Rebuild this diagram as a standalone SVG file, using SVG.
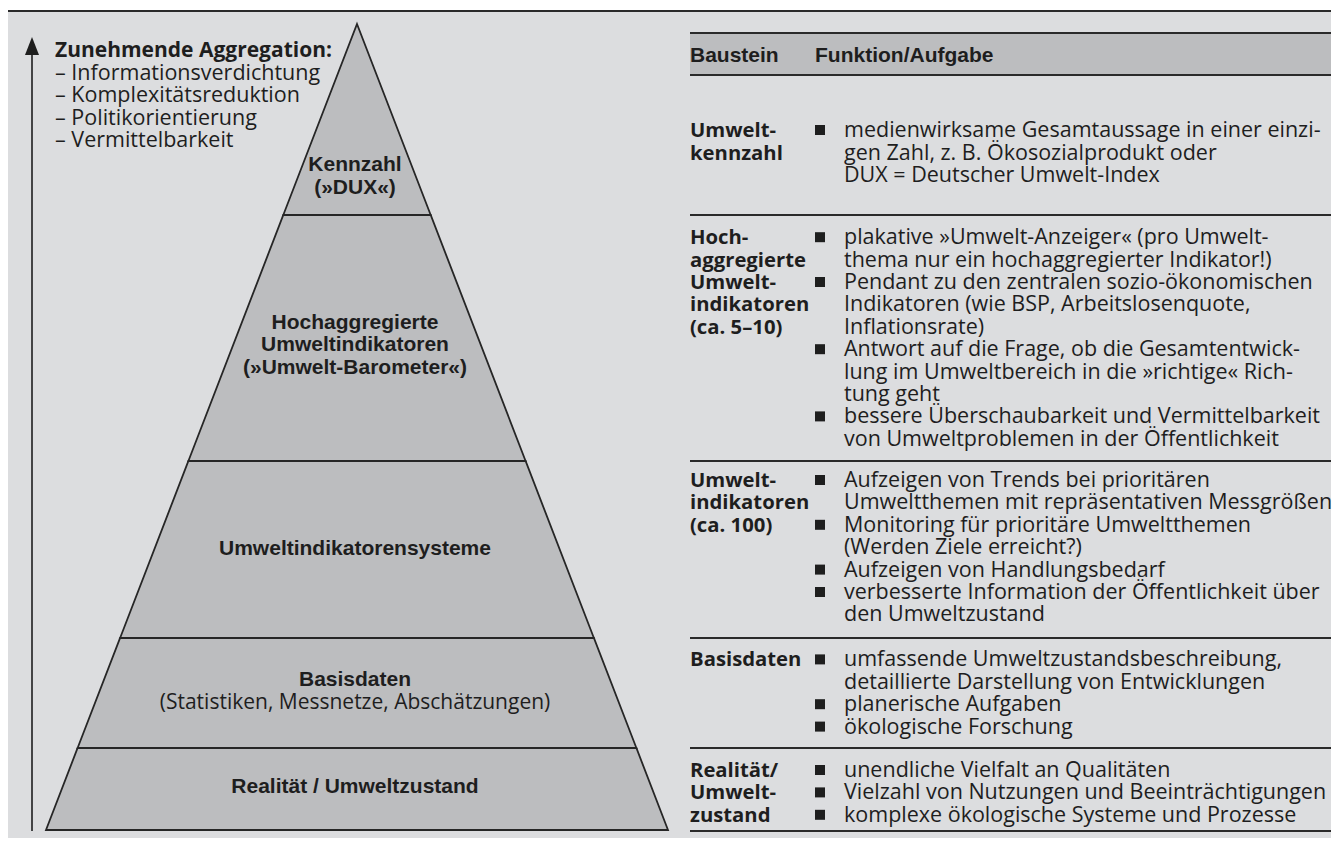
<svg xmlns="http://www.w3.org/2000/svg" width="1333" height="843" viewBox="0 0 1333 843">
<style>
.bg{fill:#dcdddf}
.lay{fill:#bcbdbf;stroke:#262626;stroke-width:1.8;stroke-linejoin:miter}
.rule{stroke:#2a2a2a;stroke-width:2;fill:none}
.pl{font-family:"Liberation Sans",Arial,sans-serif;font-weight:bold;font-size:21px;fill:#1e1e1e;text-anchor:middle}
.pr{font-family:"Open Sans","Liberation Sans",sans-serif;font-size:21px;fill:#1e1e1e;text-anchor:middle}
.t{font-family:"Open Sans","Liberation Sans",sans-serif;font-size:21.5px;fill:#1e1e1e}
.b{font-family:"Open Sans","Liberation Sans",sans-serif;font-weight:bold;font-size:21px;fill:#1e1e1e}
.c{font-family:"Open Sans","Liberation Sans",sans-serif;font-weight:bold;font-size:20.3px;fill:#1e1e1e}
.h{font-family:"Liberation Sans",Arial,sans-serif;font-weight:bold;font-size:21px;fill:#1e1e1e}
.sq{fill:#1e1e1e}
</style>
<rect class="bg" x="8" y="11" width="1323" height="827"/>
<line class="rule" x1="8" y1="11" x2="1331" y2="11"/>

<g id="connectors">
  <line x1="32" y1="52" x2="32" y2="831" stroke="#1e1e1e" stroke-width="1.6"/>
  <polygon points="32,37 25,55 39,55" fill="#1e1e1e"/>
</g>

<g id="aggregation-note">
  <text class="b" x="55" y="57">Zunehmende Aggregation:</text>
  <text class="t" x="55" y="80">– Informationsverdichtung</text>
  <text class="t" x="55" y="102">– Komplexitätsreduktion</text>
  <text class="t" x="55" y="125">– Politikorientierung</text>
  <text class="t" x="55" y="147">– Vermittelbarkeit</text>
</g>

<g id="layer-kennzahl">
  <polygon class="lay" points="357,24 430.7,215 283.3,215"/>
  <text class="pl" x="355" y="171">Kennzahl</text>
  <text class="pl" x="355" y="194">(»DUX«)</text>
</g>
<g id="layer-hochaggregiert">
  <polygon class="lay" points="283.3,215 430.7,215 525.6,461 188.4,461"/>
  <text class="pl" x="355" y="329">Hochaggregierte</text>
  <text class="pl" x="355" y="351">Umweltindikatoren</text>
  <text class="pl" x="355" y="374">(»Umwelt-Barometer«)</text>
</g>
<g id="layer-systeme">
  <polygon class="lay" points="188.4,461 525.6,461 593.9,638 120.1,638"/>
  <text class="pl" x="355" y="555">Umweltindikatorensysteme</text>
</g>
<g id="layer-basisdaten">
  <polygon class="lay" points="120.1,638 593.9,638 636.4,748 77.6,748"/>
  <text class="pl" x="355" y="686">Basisdaten</text>
  <text class="pr" x="355" y="709">(Statistiken, Messnetze, Abschätzungen)</text>
</g>
<g id="layer-realitaet">
  <polygon class="lay" points="77.6,748 636.4,748 668,830 46,830"/>
  <text class="pl" x="355" y="793">Realität / Umweltzustand</text>
</g>

<g id="table-header">
  <rect x="690" y="33" width="641" height="42" fill="#bcbdbf"/>
  <line class="rule" x1="690" y1="33" x2="1331" y2="33"/>
  <line class="rule" x1="690" y1="75" x2="1331" y2="75"/>
  <text class="h" x="690" y="62">Baustein</text>
  <text class="h" x="815" y="62">Funktion/Aufgabe</text>
</g>

<g id="row-kennzahl">
  <text class="c" x="690" y="137">Umwelt-</text>
  <text class="c" x="690" y="159.5">kennzahl</text>
  <rect class="sq" x="815" y="125" width="10" height="10"/>
  <text class="t" x="844" y="137">medienwirksame Gesamtaussage in einer einzi-</text>
  <text class="t" x="844" y="159.5">gen Zahl, z. B. Ökosozialprodukt oder</text>
  <text class="t" x="844" y="182">DUX = Deutscher Umwelt-Index</text>
  <line class="rule" x1="690" y1="215" x2="1331" y2="215"/>
</g>

<g id="row-hochaggregiert">
  <text class="c" x="690" y="244.2">Hoch-</text>
  <text class="c" x="690" y="266.6">aggregierte</text>
  <text class="c" x="690" y="289">Umwelt-</text>
  <text class="c" x="690" y="311.4">indikatoren</text>
  <text class="c" x="690" y="333.8">(ca. 5–10)</text>
  <rect class="sq" x="815" y="232.2" width="10" height="10"/>
  <rect class="sq" x="815" y="277" width="10" height="10"/>
  <rect class="sq" x="815" y="344.2" width="10" height="10"/>
  <rect class="sq" x="815" y="411.4" width="10" height="10"/>
  <text class="t" x="844" y="244.2">plakative »Umwelt-Anzeiger« (pro Umwelt-</text>
  <text class="t" x="844" y="266.6">thema nur ein hochaggregierter Indikator!)</text>
  <text class="t" x="844" y="289">Pendant zu den zentralen sozio-ökonomischen</text>
  <text class="t" x="844" y="311.4">Indikatoren (wie BSP, Arbeitslosenquote,</text>
  <text class="t" x="844" y="333.8">Inflationsrate)</text>
  <text class="t" x="844" y="356.2">Antwort auf die Frage, ob die Gesamtentwick-</text>
  <text class="t" x="844" y="378.6">lung im Umweltbereich in die »richtige« Rich-</text>
  <text class="t" x="844" y="401">tung geht</text>
  <text class="t" x="844" y="423.4">bessere Überschaubarkeit und Vermittelbarkeit</text>
  <text class="t" x="844" y="445.8">von Umweltproblemen in der Öffentlichkeit</text>
  <line class="rule" x1="690" y1="461" x2="1331" y2="461"/>
</g>

<g id="row-indikatoren">
  <text class="c" x="690" y="487">Umwelt-</text>
  <text class="c" x="690" y="509.4">indikatoren</text>
  <text class="c" x="690" y="531.8">(ca. 100)</text>
  <rect class="sq" x="815" y="475" width="10" height="10"/>
  <rect class="sq" x="815" y="519.8" width="10" height="10"/>
  <rect class="sq" x="815" y="564.6" width="10" height="10"/>
  <rect class="sq" x="815" y="587" width="10" height="10"/>
  <text class="t" x="844" y="487">Aufzeigen von Trends bei prioritären</text>
  <text class="t" x="844" y="509.4">Umweltthemen mit repräsentativen Messgrößen</text>
  <text class="t" x="844" y="531.8">Monitoring für prioritäre Umweltthemen</text>
  <text class="t" x="844" y="554.2">(Werden Ziele erreicht?)</text>
  <text class="t" x="844" y="576.6">Aufzeigen von Handlungsbedarf</text>
  <text class="t" x="844" y="599">verbesserte Information der Öffentlichkeit über</text>
  <text class="t" x="844" y="621.4">den Umweltzustand</text>
  <line class="rule" x1="690" y1="638" x2="1331" y2="638"/>
</g>

<g id="row-basisdaten">
  <text class="c" x="690" y="666.4">Basisdaten</text>
  <rect class="sq" x="815" y="654.4" width="10" height="10"/>
  <rect class="sq" x="815" y="699.2" width="10" height="10"/>
  <rect class="sq" x="815" y="721.6" width="10" height="10"/>
  <text class="t" x="844" y="666.4">umfassende Umweltzustandsbeschreibung,</text>
  <text class="t" x="844" y="688.8">detaillierte Darstellung von Entwicklungen</text>
  <text class="t" x="844" y="711.2">planerische Aufgaben</text>
  <text class="t" x="844" y="733.6">ökologische Forschung</text>
  <line class="rule" x1="690" y1="748" x2="1331" y2="748"/>
</g>

<g id="row-realitaet">
  <text class="c" x="690" y="777">Realität/</text>
  <text class="c" x="690" y="799.4">Umwelt-</text>
  <text class="c" x="690" y="821.8">zustand</text>
  <rect class="sq" x="815" y="765" width="10" height="10"/>
  <rect class="sq" x="815" y="787.4" width="10" height="10"/>
  <rect class="sq" x="815" y="809.8" width="10" height="10"/>
  <text class="t" x="844" y="777">unendliche Vielfalt an Qualitäten</text>
  <text class="t" x="844" y="799.4">Vielzahl von Nutzungen und Beeinträchtigungen</text>
  <text class="t" x="844" y="821.8">komplexe ökologische Systeme und Prozesse</text>
  <line class="rule" x1="690" y1="831" x2="1331" y2="831"/>
</g>
</svg>
